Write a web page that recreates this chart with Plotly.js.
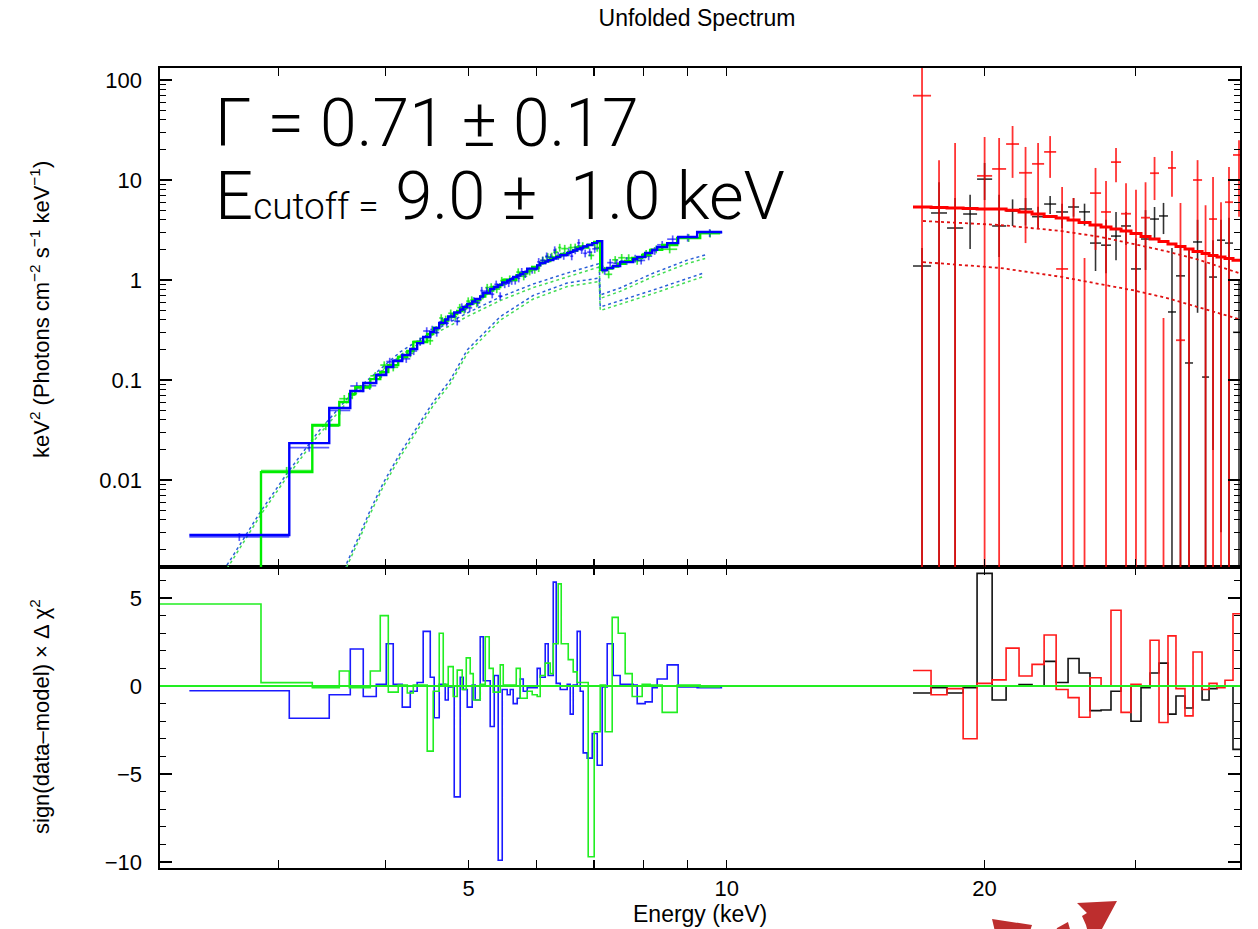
<!DOCTYPE html>
<html><head><meta charset="utf-8">
<script src="https://cdn.plot.ly/plotly-3.0.1.min.js"></script>
<style>html,body{margin:0;padding:0;background:#fff}#chart{width:1258px;height:929px}</style>
</head><body><div id="chart"></div>
<script>
// ---------------- DATA ----------------
// Instrument 1 (blue): bin edges (keV), unfolded data, model, residuals
const blueEdges = [2.360, 3.087, 3.437, 3.637, 3.766, 3.900, 4.006, 4.082, 4.182, 4.273, 4.353, 4.424, 4.509, 4.557, 4.619, 4.694, 4.732, 4.809, 4.887, 4.927, 4.980, 5.047, 5.088, 5.157, 5.199, 5.297, 5.355, 5.412, 5.471, 5.545, 5.590, 5.635, 5.696, 5.742, 5.789, 5.851, 6.010, 6.059, 6.141, 6.190, 6.275, 6.325, 6.394, 6.515, 6.568, 6.621, 6.692, 6.747, 6.801, 6.874, 6.968, 7.062, 7.157, 7.254, 7.372, 7.511, 7.779, 7.863, 8.033, 8.186, 8.297, 8.523, 8.778, 9.238, 9.880];
const blueModel = [0.00282, 0.0234, 0.0525, 0.0776, 0.0933, 0.112, 0.135, 0.155, 0.178, 0.204, 0.234, 0.269, 0.302, 0.331, 0.372, 0.403, 0.432, 0.473, 0.507, 0.537, 0.575, 0.610, 0.646, 0.684, 0.741, 0.813, 0.851, 0.891, 0.944, 0.989, 1.02, 1.07, 1.11, 1.15, 1.20, 1.30, 1.40, 1.48, 1.53, 1.58, 1.64, 1.70, 1.78, 1.86, 1.91, 1.97, 2.04, 2.09, 2.16, 2.24, 2.34, 2.45, 1.26, 1.32, 1.38, 1.51, 1.62, 1.70, 1.86, 2.00, 2.14, 2.34, 2.69, 3.02];
const blueData = [0.0027, 0.0211, 0.0496, 0.0872, 0.0877, 0.115, 0.153, 0.159, 0.163, 0.195, 0.243, 0.309, 0.320, 0.298, 0.382, 0.375, 0.425, 0.386, 0.536, 0.518, 0.527, 0.618, 0.601, 0.783, 0.774, 0.720, 0.905, 0.691, 0.910, 0.934, 0.983, 0.988, 1.04, 1.21, 1.15, 1.27, 1.52, 1.57, 1.73, 1.68, 1.99, 1.74, 1.75, 1.90, 1.73, 1.99, 2.35, 2.00, 1.85, 1.90, 2.05, 2.07, 1.24, 1.49, 1.47, 1.55, 1.64, 1.57, 1.73, 1.96, 2.25, 2.56, 2.66, 2.96];
const blueResid = [-0.27, -1.83, -0.5, 2.1, -0.6, 0.1, 2.4, 0.1, -1.2, -0.3, 0.2, 3.1, 0.5, -1.8, 0.1, -0.8, -0.05, -6.3, 0.5, -0.2, -1.2, 0.05, -0.8, 2.8, 0.3, -2.3, 0.6, -9.9, -0.2, -0.5, -0.2, -1.0, -0.7, 0.4, -0.3, -0.1, 1.0, 0.5, 2.4, 0.6, 5.9, 0.15, -0.2, 0.1, -1.6, 0.05, 3.1, -0.3, -3.8, -4.1, -2.7, -4.5, -0.05, 2.4, 0.6, 0.1, 0.05, -1.0, -0.9, -0.1, 0.4, 1.2, -0.05, -0.1];

// Instrument 2 (green)
const greenEdges = [2.069, 2.861, 3.284, 3.531, 3.627, 3.686, 3.838, 3.942, 4.028, 4.137, 4.239, 4.308, 4.472, 4.545, 4.619, 4.669, 4.732, 4.796, 4.848, 4.913, 4.967, 5.020, 5.061, 5.157, 5.227, 5.283, 5.340, 5.442, 5.486, 5.681, 5.742, 5.851, 5.930, 6.010, 6.059, 6.141, 6.224, 6.275, 6.359, 6.411, 6.533, 6.621, 6.692, 6.893, 7.005, 7.119, 7.215, 7.352, 7.472, 7.613, 7.758, 7.969, 8.142, 8.409, 8.755, 9.313, 9.827];
const greenModel = [0.0008, 0.0120, 0.0355, 0.0603, 0.0724, 0.0851, 0.102, 0.120, 0.141, 0.170, 0.195, 0.240, 0.288, 0.331, 0.363, 0.394, 0.427, 0.457, 0.490, 0.525, 0.556, 0.589, 0.631, 0.684, 0.733, 0.785, 0.851, 0.902, 1.00, 1.11, 1.17, 1.27, 1.35, 1.40, 1.48, 1.55, 1.61, 1.68, 1.74, 1.82, 1.91, 1.97, 2.11, 2.26, 2.40, 1.26, 1.30, 1.36, 1.45, 1.55, 1.66, 1.78, 2.00, 2.24, 2.63, 2.95];
const greenData = [0.0012, 0.0124, 0.0346, 0.065, 0.0706, 0.083, 0.110, 0.141, 0.134, 0.172, 0.185, 0.243, 0.247, 0.317, 0.417, 0.404, 0.465, 0.430, 0.529, 0.506, 0.615, 0.630, 0.587, 0.702, 0.839, 0.851, 0.811, 0.985, 1.02, 1.20, 1.09, 1.22, 1.27, 1.32, 1.57, 1.70, 1.72, 1.90, 2.11, 2.06, 2.11, 2.12, 2.19, 1.76, 2.11, 1.28, 1.14, 1.59, 1.67, 1.66, 1.56, 1.83, 2.03, 2.03, 2.64, 2.92];
const greenResid = [4.66, 0.19, -0.1, 0.85, -0.1, -0.1, 0.85, 4.0, -0.35, 0.05, -0.4, 0.05, -3.7, -0.3, 3.0, 0.1, 1.1, -0.6, 0.9, -0.2, 1.6, 0.7, -0.8, 0.1, 2.8, 1.0, -0.35, 1.2, 0.05, 1.0, -0.7, -0.3, -0.5, -0.6, 0.6, 1.3, 0.7, 2.4, 5.8, 2.4, 1.5, 0.8, 0.2, -9.7, -2.6, 0.05, -2.6, 3.9, 3.0, 0.7, -0.6, 0.1, 0.05, -1.5, 0.05, -0.05];

// Model components (dotted), low-energy instruments
const compAE = [2.564, 2.634, 2.856, 3.070, 3.328, 3.637, 4.160, 4.545, 4.980, 5.442, 5.946, 6.515, 7.10, 7.12, 7.511, 8.208, 8.993, 9.439];
const blueCompA = [0.00112, 0.00158, 0.00479, 0.0117, 0.0295, 0.0708, 0.191, 0.309, 0.468, 0.676, 0.912, 1.175, 1.46, 0.708, 0.832, 1.17, 1.58, 1.78];
const greenCompA = [0.00104, 0.00146, 0.00442, 0.0108, 0.0272, 0.0652, 0.176, 0.285, 0.431, 0.623, 0.840, 1.08, 1.35, 0.655, 0.770, 1.08, 1.46, 1.64];
const compBE = [3.569, 3.607, 3.706, 3.838, 3.974, 4.160, 4.353, 4.545, 4.758, 4.980, 5.442, 5.946, 6.515, 7.10, 7.12, 8.208, 9.388];
const blueCompB = [0.00112, 0.00151, 0.00251, 0.00501, 0.00933, 0.0186, 0.0339, 0.0603, 0.100, 0.200, 0.430, 0.700, 0.933, 1.047, 0.537, 0.794, 1.17];
const greenCompB = [0.00103, 0.00139, 0.00231, 0.00461, 0.0086, 0.0171, 0.0312, 0.0555, 0.092, 0.184, 0.396, 0.645, 0.860, 0.965, 0.495, 0.732, 1.08];

// High-energy instruments (black & red): shared bin edges
const hiEdges = [16.50, 17.32, 18.08, 18.88, 19.60, 20.41, 21.19, 21.94, 22.72, 23.47, 24.24, 25.03, 25.78, 26.55, 27.35, 28.09, 28.86, 29.64, 30.45, 31.20, 31.96, 32.74, 33.45, 34.27, 35.02, 35.88, 36.56, 37.35, 38.16, 38.99, 40.27];
const redModel = [5.37, 5.31, 5.25, 5.19, 5.13, 5.13, 4.97, 4.79, 4.57, 4.32, 4.17, 3.98, 3.76, 3.55, 3.39, 3.24, 3.09, 2.92, 2.72, 2.57, 2.43, 2.29, 2.16, 2.04, 1.93, 1.84, 1.76, 1.70, 1.64, 1.58];
const redVal = [69.7, 1e-4, 1e-4, 1e-4, 11.0, 12.9, 22.9, 11.8, 14.5, 19.1, 1.29, 1e-4, 1e-4, 7.4, 4.79, 15.1, 4.6, 1e-4, 4.2, 11.7, 1e-4, 13.2, 0.25, 1e-4, 10.0, 1e-4, 4.07, 1e-4, 6.0, 17.8];
const redHi = [300, 15.8, 23.4, 1e-4, 26.9, 26.3, 34.7, 21.4, 23.4, 27.5, 8.5, 6.6, 1.66, 13.2, 9.8, 20.9, 9.3, 8.0, 9.5, 17.0, 0.417, 19.5, 5.9, 2.0, 15.8, 5.6, 10.7, 6.0, 13.5, 25.0];
const redLo = [1e-5, 1e-5, 1e-5, 1e-5, 1e-5, 1e-5, 10.5, 2.34, 3.3, 10.5, 1e-5, 1e-5, 1e-5, 2.0, 1e-5, 9.5, 1e-5, 1e-5, 1e-5, 6.3, 1e-5, 6.8, 1e-5, 1e-5, 2.5, 1e-5, 1e-5, 1e-5, 1e-5, 4.3];
const blackVal = [1.38, 4.68, 3.31, 4.57, 10.2, 3.47, 4.9, 5.13, 4.3, 5.75, 4.79, 5.37, 4.8, 2.34, 2.23, 2.75, 3.47, 1.29, 2.57, 4.07, 4.37, 0.479, 1.10, 0.148, 2.4, 0.107, 1.07, 2.5, 2.34, 0.3];
const blackHi = [2.09, 9.5, 6.6, 7.1, 14.8, 7.1, 6.4, 6.6, 5.4, 6.9, 5.8, 6.6, 5.8, 3.5, 4.0, 4.8, 4.8, 2.6, 5.0, 5.37, 5.9, 2.09, 2.1, 2.0, 4.0, 1.5, 2.5, 4.0, 4.2, 1.0];
const blackLo = [1e-5, 1e-5, 1e-5, 2.04, 6.3, 1.7, 3.47, 3.5, 3.3, 4.57, 3.3, 4.3, 3.5, 1.23, 1.17, 1.58, 2.24, 0.0126, 1.26, 2.63, 2.88, 1e-5, 1e-5, 1e-5, 0.47, 1e-5, 0.02, 0.003, 1e-5, 1e-5];
const redResid = [0.88, -0.5, -0.15, -3.0, 0.15, 0.35, 2.15, 0.57, 1.23, 2.9, -0.2, -0.66, -1.78, 0.47, 0.0, 4.3, -1.5, 0.1, 0.0, 2.6, -2.07, 2.85, -0.15, -1.7, 1.93, -0.2, 0.15, -0.1, 0.33, 4.1];
const blackResid = [-0.4, -0.1, -0.4, -0.1, 6.4, -0.8, 0.0, 0.08, 0.0, 1.4, 0.2, 1.56, 0.74, -1.4, -1.36, -0.3, 0.0, -2.0, -0.1, 0.74, 1.3, -1.6, -0.57, -1.25, 0.0, -0.8, -0.15, 0.0, 0.0, -3.6];
// Red model components (dotted)
const redCompE = [16.95, 20.85, 24.50, 27.28, 29.80, 32.66, 35.68, 38.99, 40.27];
const redCompHi = [3.89, 3.55, 3.10, 2.70, 2.30, 1.93, 1.58, 1.23, 1.12];
const redCompLo = [1.51, 1.32, 1.08, 0.91, 0.79, 0.66, 0.525, 0.417, 0.39];

// Tick labels
const xTickVals = [5, 10, 20];
const xTickText = ['5', '10', '20'];
const xMinorVals = [3, 4, 6, 7, 8, 9, 30, 40];
const yTickVals = [0.01, 0.1, 1, 10, 100];
const yTickText = ['0.01', '0.1', '1', '10', '100'];
const y2TickVals = [-10, -5, 0, 5];
const y2TickText = ['\u221210', '\u22125', '0', '5'];

// ---------------- BUILD ----------------
const FONT = 'Liberation Sans, Arial, Helvetica, sans-serif';
const traces = [];
function centers(e){ const c=[]; for(let i=0;i<e.length-1;i++) c.push(Math.sqrt(e[i]*e[i+1])); return c; }
function step(edges, vals, color, width, xa, ya){
  traces.push({type:'scatter', mode:'lines', x: edges.slice(), y: vals.concat([vals[vals.length-1]]),
    xaxis: xa, yaxis: ya, line:{shape:'hv', color: color, width: width}, hoverinfo:'skip', showlegend:false});
}
function xerr(edges, c, color, th){
  const p=[], m=[]; for(let i=0;i<c.length;i++){ p.push(edges[i+1]-c[i]); m.push(c[i]-edges[i]); }
  return {type:'data', symmetric:false, array:p, arrayminus:m, color:color, thickness:th, width:0};
}
function crossPct(edges, vals, pct, color, th){
  const c = centers(edges);
  traces.push({type:'scatter', mode:'markers', x:c, y:vals, xaxis:'x2', yaxis:'y',
    marker:{size:1, color:'rgba(0,0,0,0)'}, hoverinfo:'skip', showlegend:false,
    error_x: xerr(edges, c, color, th),
    error_y: {type:'percent', value:pct, color:color, thickness:th, width:0}});
}
function crossBounds(edges, vals, hi, lo, color, th){
  const c = centers(edges);
  const p=[], m=[]; for(let i=0;i<vals.length;i++){ p.push(Math.max(hi[i]-vals[i],0)); m.push(Math.max(vals[i]-lo[i],0)); }
  traces.push({type:'scatter', mode:'markers', x:c, y:vals, xaxis:'x2', yaxis:'y',
    marker:{size:1, color:'rgba(0,0,0,0)'}, hoverinfo:'skip', showlegend:false,
    error_x: xerr(edges, c, color, th),
    error_y: {type:'data', symmetric:false, array:p, arrayminus:m, color:color, thickness:th, width:0}});
}
function dotted(xs, ys, color, width){
  traces.push({type:'scatter', mode:'lines', x:xs, y:ys, xaxis:'x2', yaxis:'y',
    line:{color:color, width:width, dash:'dot'}, hoverinfo:'skip', showlegend:false});
}

// Top panel
dotted(compAE, greenCompA, '#44dd55', 1.5);
dotted(compBE, greenCompB, '#44dd55', 1.5);
dotted(compAE, blueCompA, '#2a5fd8', 1.5);
dotted(compBE, blueCompB, '#2a5fd8', 1.5);
crossPct(greenEdges, greenData, 9, 'rgba(0,230,0,0.75)', 1.7);
crossPct(blueEdges, blueData, 9, 'rgba(0,0,255,0.65)', 1.7);
step(greenEdges, greenModel, '#00ee00', 2.4, 'x2', 'y');
step(blueEdges, blueModel, '#0000ff', 2.4, 'x2', 'y');
crossBounds(hiEdges, blackVal, blackHi, blackLo, 'rgba(0,0,0,0.8)', 1.6);
crossBounds(hiEdges, redVal, redHi, redLo, 'rgba(255,0,0,0.8)', 1.8);
dotted(redCompE, redCompHi, '#e01010', 1.8);
dotted(redCompE, redCompLo, '#e01010', 1.8);
step(hiEdges, redModel, '#ff0000', 3, 'x2', 'y');

// Bottom panel (residuals)
step(blueEdges, blueResid, '#1a1aff', 1.6, 'x', 'y2');
step(greenEdges, greenResid, '#22ee22', 1.6, 'x', 'y2');
step(hiEdges, blackResid, '#111111', 1.6, 'x', 'y2');
step(hiEdges, redResid, '#ff1a1a', 1.6, 'x', 'y2');

const minorY = [];
for (let d = -3; d <= 2; d++) for (let k = 2; k <= 9; k++) minorY.push(k * Math.pow(10, d));
const minorY2 = [];
for (let v = -10; v <= 6; v++) if (v % 5 !== 0) minorY2.push(v);

const XR = [Math.log10(2.181), Math.log10(39.73)];
const common = {showline:true, linecolor:'#000', linewidth:1.6, mirror:'allticks', ticks:'inside',
  tickcolor:'#000', tickwidth:1.3, showgrid:false, zeroline:false,
  tickfont:{family:FONT, size:22, color:'#000'}};
const xMinor = {tickmode:'array', tickvals:xMinorVals, ticklen:8, ticks:'inside', tickcolor:'#000', tickwidth:1.3, showgrid:false};

const layout = {
  width:1258, height:929,
  margin:{l:160, r:18, t:68, b:61},
  paper_bgcolor:'#fff', plot_bgcolor:'#fff',
  font:{family:FONT, color:'#000'},
  showlegend:false,
  title:{text:'Unfolded Spectrum', x:697/1258, xref:'container', xanchor:'center',
    y:1-18/929, yref:'container', yanchor:'middle', font:{family:FONT, size:23, color:'#000'}},
  xaxis: Object.assign({}, common, {type:'log', range:XR, anchor:'y2', domain:[0,1],
    tickmode:'array', tickvals:xTickVals, ticktext:xTickText, ticklen:8, ticklabelstandoff:0, minor:xMinor}),
  xaxis2: Object.assign({}, common, {type:'log', range:XR, anchor:'y', domain:[0,1],
    tickmode:'array', tickvals:xTickVals, ticktext:xTickText, ticklen:8, showticklabels:false, minor:xMinor}),
  yaxis: Object.assign({}, common, {type:'log', range:[-2.87, 2.12], domain:[0.37625,1], anchor:'x2',
    tickmode:'array', tickvals:yTickVals, ticktext:yTickText, ticklen:12, ticklabelstandoff:12,
    minor:{tickmode:'array', tickvals:minorY, ticklen:6, ticks:'inside', tickcolor:'#000', tickwidth:1.1, showgrid:false}}),
  yaxis2: Object.assign({}, common, {range:[-10.34, 6.76], domain:[0,0.37625], anchor:'x',
    tickmode:'array', tickvals:y2TickVals, ticktext:y2TickText, ticklen:12, ticklabelstandoff:12,
    minor:{tickmode:'array', tickvals:minorY2, ticklen:6, ticks:'inside', tickcolor:'#000', tickwidth:1.1, showgrid:false}}),
  shapes:[
    {type:'line', xref:'paper', x0:0, x1:1, yref:'y2', y0:0, y1:0, line:{color:'#22ee22', width:1.8}, layer:'above'},
    {type:'path', xref:'paper', yref:'paper', path:'M 0.7704 -0.06375 L 0.8074 -0.07125 L 0.8028 -0.09 L 0.775 -0.09 Z', fillcolor:'#bd2e2e', line:{width:0}},
    {type:'path', xref:'paper', yref:'paper', path:'M 0.8306 -0.075 L 0.8407 -0.0675 L 0.8454 -0.09 L 0.8259 -0.09 Z', fillcolor:'#bd2e2e', line:{width:0}},
    {type:'path', xref:'paper', yref:'paper', path:'M 0.8491 -0.04375 L 0.8861 -0.04125 L 0.8667 -0.09 L 0.8611 -0.09 L 0.8574 -0.07125 L 0.8537 -0.06 L 0.8583 -0.05625 Z', fillcolor:'#bd2e2e', line:{width:0}}
  ],
  annotations:[
    {xref:'paper', yref:'paper', x:0.0491, y:0.9300, xanchor:'left', yanchor:'middle', showarrow:false,
      text:'\u0393 = 0.71 \u00b1 0.17', font:{family:'Roboto, Liberation Sans, sans-serif', size:66, weight:300, color:'#000'}},
    {xref:'paper', yref:'paper', x:0.0491, y:0.8405, xanchor:'left', yanchor:'middle', showarrow:false,
      text:'E<span style="font-size:37px">cutoff =</span> 9.0 \u00b1\u00a0 1.0 keV', font:{family:'Roboto, Liberation Sans, sans-serif', size:67, weight:300, color:'#000'}},
    {xref:'paper', yref:'paper', x:-0.1111, y:0.6975, xanchor:'center', yanchor:'middle', showarrow:false, textangle:-90,
      text:'keV<sup>2</sup> (Photons cm<sup>\u22122</sup> s<sup>\u22121</sup> keV<sup>\u22121</sup>)', font:{family:FONT, size:22, color:'#000'}},
    {xref:'paper', yref:'paper', x:-0.1111, y:0.18875, xanchor:'center', yanchor:'middle', showarrow:false, textangle:-90,
      text:'sign(data\u2013model) \u00d7 \u0394 \u03c7<sup>2</sup>', font:{family:FONT, size:22, color:'#000'}},
    {xref:'paper', yref:'paper', x:0.5, y:-0.057, xanchor:'center', yanchor:'middle', showarrow:false,
      text:'Energy (keV)', font:{family:FONT, size:23, color:'#000'}}
  ]
};

Plotly.newPlot('chart', traces, layout, {staticPlot:true, displayModeBar:false});
</script></body></html>
